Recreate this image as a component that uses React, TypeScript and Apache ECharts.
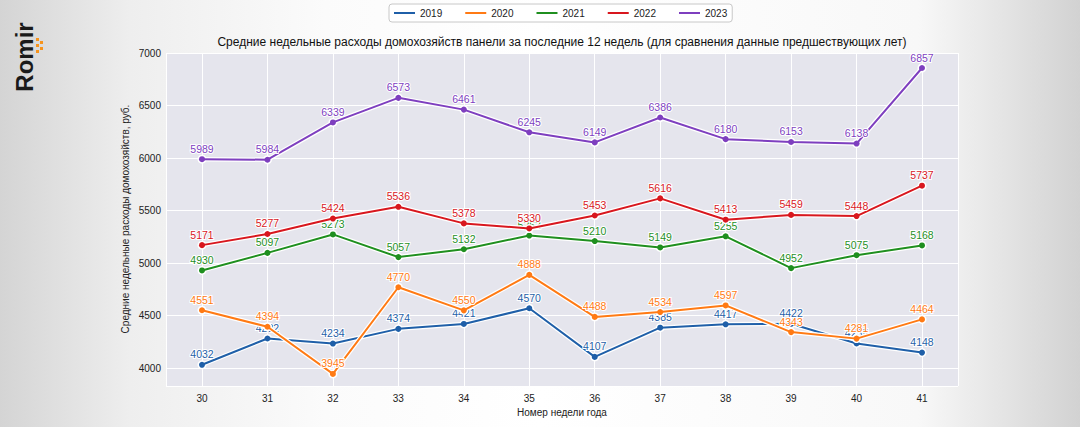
import React, { useEffect, useRef } from "react";
import * as echarts from "echarts";

const weeks = [30, 31, 32, 33, 34, 35, 36, 37, 38, 39, 40, 41];
const years = ["2019", "2020", "2021", "2022", "2023"];
const s2019 = [4032, 4282, 4234, 4374, 4421, 4570, 4107, 4385, 4417, 4422, 4235, 4148];
const s2020 = [4551, 4394, 3945, 4770, 4550, 4888, 4488, 4534, 4597, 4343, 4281, 4464];
const s2021 = [4930, 5097, 5273, 5057, 5132, 5262, 5210, 5149, 5255, 4952, 5075, 5168];
const s2022 = [5171, 5277, 5424, 5536, 5378, 5330, 5453, 5616, 5413, 5459, 5448, 5737];
const s2023 = [5989, 5984, 6339, 6573, 6461, 6245, 6149, 6386, 6180, 6153, 6138, 6857];
const seriesValues = [s2019, s2020, s2021, s2022, s2023];
const colors = ["#1f5fa8", "#ff7a14", "#1f8f1f", "#d8171e", "#7e3fbf"];

const titleText =
  "Средние недельные расходы домохозяйств панели за последние 12 недель (для сравнения данные предшествующих лет)";
const yTitle = "Средние недельные расходы домохозяйств, руб.";
const xTitle = "Номер недели года";

const FONT = "'Liberation Sans', Arial, sans-serif";

export default function App() {
  const ref = useRef<HTMLDivElement>(null);
  useEffect(() => {
    if (!ref.current) return;
    const chart = echarts.init(ref.current, undefined, { renderer: "svg" });
    const series: any[] = [];
    years.forEach((y, i) => {
      const data = weeks.map((w, j) => [w, seriesValues[i][j]]);
      series.push({
        type: "line",
        name: "_bg" + y,
        data,
        silent: true,
        symbol: "circle",
        symbolSize: 9,
        itemStyle: { color: "#ffffff" },
        lineStyle: { color: "#ffffff", width: 4.5 },
        z: 2 + i * 2,
        legendHoverLink: false,
      });
      series.push({
        type: "line",
        name: y,
        data,
        symbol: "circle",
        symbolSize: 6,
        itemStyle: { color: colors[i] },
        lineStyle: { color: colors[i], width: 2 },
        z: 3 + i * 2,
        label: {
          show: true,
          position: "top",
          distance: 2,
          color: colors[i],
          fontSize: 10.5,
          fontFamily: FONT,
          textBorderColor: "#ffffff",
          textBorderWidth: 2,
        },
      });
    });
    chart.setOption({
      animation: false,
      textStyle: { fontFamily: FONT },
      legend: {
        data: years,
        left: 389,
        top: 4,
        padding: [4, 5],
        icon: "rect",
        itemWidth: 21,
        itemHeight: 2,
        itemGap: 23,
        backgroundColor: "#ffffff",
        borderColor: "#c8c8c8",
        borderWidth: 1,
        borderRadius: 3,
        textStyle: { fontSize: 10, color: "#222", fontFamily: FONT },
      },
      grid: {
        left: 166,
        right: 122,
        top: 53,
        bottom: 41,
        show: true,
        backgroundColor: "#e5e5ed",
        borderWidth: 0,
      },
      xAxis: {
        type: "value",
        min: 29.45,
        max: 41.55,
        minInterval: 1,
        maxInterval: 1,
        axisLine: { show: false },
        axisTick: { show: false },
        axisLabel: {
          showMinLabel: false,
          showMaxLabel: false,
          fontSize: 10,
          color: "#222",
          margin: 7,
          fontFamily: FONT,
          formatter: (v: number) => String(v),
        },
        splitLine: { show: true, lineStyle: { color: "#ffffff", width: 1 } },
      },
      yAxis: {
        type: "value",
        min: 3830,
        max: 7000,
        minInterval: 500,
        maxInterval: 500,
        axisLine: { show: false },
        axisTick: { show: false },
        axisLabel: {
          showMinLabel: false,
          fontSize: 10,
          color: "#222",
          margin: 5,
          fontFamily: FONT,
          formatter: (v: number) => String(v),
        },
        splitLine: { show: true, lineStyle: { color: "#ffffff", width: 1 } },
      },
      graphic: [
        {
          type: "text",
          x: 562,
          y: 42,
          style: {
            text: titleText,
            fontSize: 12,
            fontFamily: FONT,
            fill: "#111",
            align: "center",
            verticalAlign: "middle",
          },
        },
        {
          type: "text",
          x: 125,
          y: 219,
          rotation: Math.PI / 2,
          style: {
            text: yTitle,
            fontSize: 10,
            fontFamily: FONT,
            fill: "#222",
            align: "center",
            verticalAlign: "middle",
          },
        },
        {
          type: "text",
          x: 562,
          y: 412,
          style: {
            text: xTitle,
            fontSize: 10,
            fontFamily: FONT,
            fill: "#222",
            align: "center",
            verticalAlign: "middle",
          },
        },
        {
          type: "text",
          x: 24,
          y: 57,
          rotation: Math.PI / 2,
          style: {
            text: "Romir",
            fontSize: 24,
            fontWeight: "bold",
            fontFamily: FONT,
            fill: "#1a1a1a",
            align: "center",
            verticalAlign: "middle",
          },
        },
        { type: "rect", shape: { x: 36, y: 38, width: 3, height: 3 }, style: { fill: "#f7941d" } },
        { type: "rect", shape: { x: 36, y: 44, width: 3, height: 3 }, style: { fill: "#f7941d" } },
        { type: "rect", shape: { x: 36, y: 50, width: 3, height: 3 }, style: { fill: "#f7941d" } },
        { type: "rect", shape: { x: 40, y: 41, width: 3, height: 3 }, style: { fill: "#f7941d" } },
        { type: "rect", shape: { x: 40, y: 47, width: 3, height: 3 }, style: { fill: "#f7941d" } },
      ],
      series,
    });
    return () => chart.dispose();
  }, []);
  return (
    <div
      style={{
        position: "absolute",
        left: 0,
        top: 0,
        width: 1080,
        height: 427,
        background:
          "linear-gradient(to right, #d4d4d4 0%, #eeeeee 12%, #fbfbfb 30%, #ffffff 50%, #f8f8f8 85%, #e4e4e4 93%, #d2d2d2 100%)",
      }}
    >
      <div ref={ref} style={{ width: 1080, height: 427 }} />
    </div>
  );
}
